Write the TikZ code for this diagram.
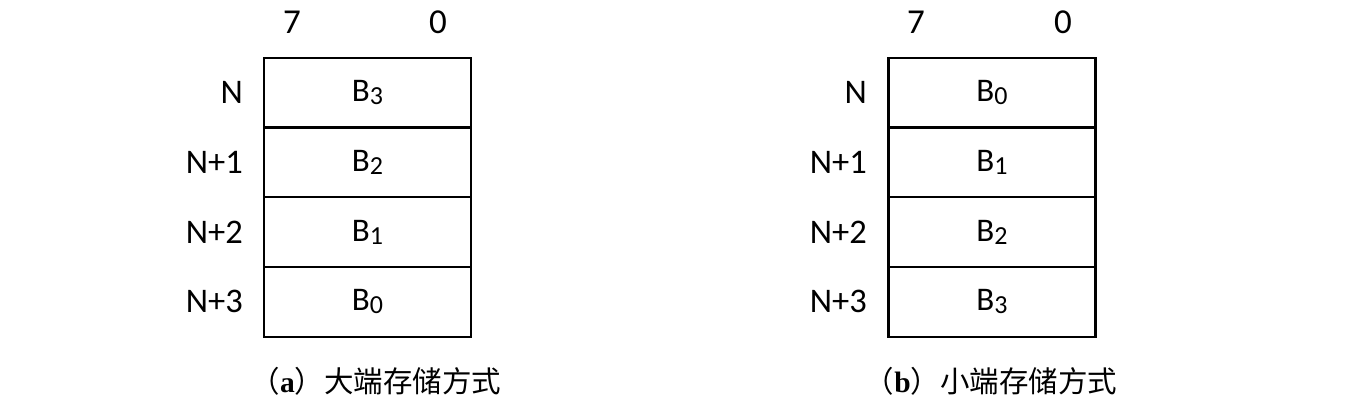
\documentclass[tikz,border=0pt]{standalone}
\usetikzlibrary{positioning}
\usepackage{fontspec}
\setmainfont{Carlito}
\newfontfamily\cjkfont{Noto Sans CJK SC}
\newfontfamily\capserif{Liberation Serif}
\newcommand{\bsub}[1]{B\raisebox{-3pt}{\fontsize{26}{26}\selectfont #1}}
\begin{document}
\begin{tikzpicture}[x=1pt,y=-1pt,
  cell/.style={draw,line width=2.4pt,minimum width=207pt,minimum height=69.75pt,inner sep=0pt,outer sep=0pt,font=\fontsize{33}{33}\selectfont},
  rowlab/.style={anchor=east,inner sep=0pt,font=\fontsize{34.5}{34.5}\selectfont},
  bitlab/.style={inner sep=0pt,font=\fontsize{35}{35}\selectfont},
  caption/.style={inner sep=0pt,font=\fontsize{29.5}{29.5}\selectfont}]
\useasboundingbox (0,0) rectangle (1349,416);
\coordinate (xa) at (243,0);
\coordinate (xb) at (867,0);
% (a) big endian
\node[cell] (a0) at (367.5,92.6) {\bsub{3}};
\node[cell,below=0pt of a0] (a1) {\bsub{2}};
\node[cell,below=0pt of a1] (a2) {\bsub{1}};
\node[cell,below=0pt of a2] (a3) {\bsub{0}};
\node[rowlab] (la0) at (a0 -| xa) {N};
\node[rowlab] (la1) at (a1 -| xa) {N+1};
\node[rowlab] (la2) at (a2 -| xa) {N+2};
\node[rowlab] (la3) at (a3 -| xa) {N+3};
\node[bitlab] (a7) at (292,22) {7};
\node[bitlab] (az) at (438,22) {0};
\node[caption] (capa) at (376,381) {{\cjkfont （}{\capserif\bfseries a}{\cjkfont ）大端存储方式}};
% (b) little endian
\node[cell] (b0) at (992,92.6) {\bsub{0}};
\node[cell,below=0pt of b0] (b1) {\bsub{1}};
\node[cell,below=0pt of b1] (b2) {\bsub{2}};
\node[cell,below=0pt of b2] (b3) {\bsub{3}};
\node[rowlab] (lb0) at (b0 -| xb) {N};
\node[rowlab] (lb1) at (b1 -| xb) {N+1};
\node[rowlab] (lb2) at (b2 -| xb) {N+2};
\node[rowlab] (lb3) at (b3 -| xb) {N+3};
\node[bitlab] (b7) at (916,22) {7};
\node[bitlab] (bz) at (1063,22) {0};
\node[caption] (capb) at (991,381) {{\cjkfont （}{\capserif\bfseries b}{\cjkfont ）小端存储方式}};
\end{tikzpicture}
\end{document}
